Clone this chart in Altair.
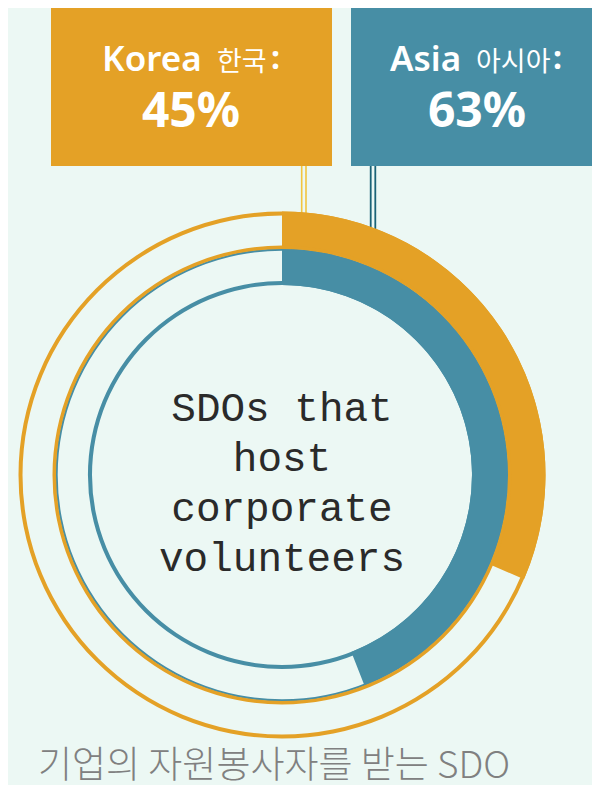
import math
import altair as alt
import pandas as pd

# ---- data ----
regions = ["Korea", "Asia"]
regions_ko = ["한국", "아시아"]
shares = [45, 63]
center_lines = ["SDOs that", "host", "corporate", "volunteers"]
footer = "기업의 자원봉사자를 받는 SDO"

# ---- styles / layout ----
ORANGE = "#E4A126"
TEAL = "#478EA5"
BG = "#ECF8F4"
W, H = 584, 777
CX, CY = 274, 467
theta_scale = alt.Scale(domain=[0, 143], range=[0, 2 * math.pi])

df = pd.DataFrame({"region": regions, "ko": regions_ko, "share": shares, "start": [0, 0]})
df["label"] = df["share"].astype(str) + "%"
one = pd.DataFrame({"k": [0]})

layers = []

# connector lines
def vrule(x, y1, y2, color, w):
    return alt.Chart(one).mark_rule(color=color, strokeWidth=w).encode(
        x=alt.value(x), y=alt.value(y1), y2=alt.value(y2))

layers += [vrule(293.7, 158, 206, "#F2C53F", 1.6), vrule(298.0, 158, 206, "#F2C53F", 1.6),
           vrule(362.7, 157, 221, "#1B6377", 1.8), vrule(367.3, 157, 221, "#1B6377", 1.8)]

# full ring outlines
def ring(r_out, r_in, color):
    return alt.Chart(one).mark_arc(radius=r_out, radius2=r_in, theta=0, theta2=2 * math.pi,
                                   color=color).encode(x=alt.value(CX), y=alt.value(CY))

layers.append(ring(226.5, 224.3, TEAL))
layers.append(ring(263.5, 259.5, ORANGE))
layers.append(ring(194.0, 190.0, TEAL))

# value arcs
def value_arc(region, r_out, r_in, color):
    return alt.Chart(df).transform_filter(alt.datum.region == region).mark_arc(
        radius=r_out, radius2=r_in, color=color).encode(
        theta=alt.Theta("start:Q", scale=theta_scale, stack=False),
        theta2="share:Q",
        x=alt.value(CX), y=alt.value(CY))

layers.append(value_arc("Asia", 226, 190, TEAL))
layers.append(value_arc("Korea", 263.5, 227, ORANGE))
layers.append(ring(229.5, 226.0, ORANGE))

# boxes
box_layout = {
    "Korea": dict(x1=43, x2=324, color=ORANGE, xe=94, xk=209, xc=263, xp=183),
    "Asia": dict(x1=343, x2=600, color=TEAL, xe=382, xk=468, xc=545, xp=469),
}
for reg in regions:
    L = box_layout[reg]
    base = alt.Chart(df).transform_filter(alt.datum.region == reg)
    layers.append(base.mark_rect(color=L["color"]).encode(
        x=alt.value(L["x1"]), x2=alt.value(L["x2"]), y=alt.value(0), y2=alt.value(158)))
    layers.append(base.mark_text(font="Noto Sans", fontSize=35, fontWeight=600, color="white",
                                 align="left", baseline="alphabetic").encode(
        text="region:N", x=alt.value(L["xe"]), y=alt.value(63)))
    layers.append(base.mark_text(font="Noto Sans CJK KR", fontSize=27, fontWeight="normal", color="white",
                                 align="left", baseline="alphabetic").encode(
        text="ko:N", x=alt.value(L["xk"]), y=alt.value(63)))
    layers.append(base.mark_text(font="Noto Sans", fontSize=32, fontWeight="bold", color="white",
                                 align="left", baseline="alphabetic", text=":").encode(
        x=alt.value(L["xc"]), y=alt.value(61)))
    layers.append(base.mark_text(font="Noto Sans", fontSize=48, fontWeight="bold", color="white",
                                 align="center", baseline="alphabetic").encode(
        text="label:N", x=alt.value(L["xp"]), y=alt.value(119)))

# center text
layers.append(alt.Chart(one).mark_text(text=center_lines, font="Liberation Mono", fontSize=41,
                                       lineHeight=50, color="#2A2A2A", align="center",
                                       baseline="alphabetic").encode(
    x=alt.value(CX), y=alt.value(413)))

# footer
layers.append(alt.Chart(one).mark_text(text=footer, font="Noto Sans CJK KR", fontSize=37,
                                       fontWeight=300, color="#808080", align="left",
                                       baseline="alphabetic").encode(
    x=alt.value(30), y=alt.value(770)))

chart = alt.layer(*layers).properties(
    width=W, height=H, padding=0, autosize=alt.AutoSizeParams(type="none"), background=BG
).configure_view(stroke=None)

chart.save("out.html", embed_options={"renderer": "svg", "actions": False})
